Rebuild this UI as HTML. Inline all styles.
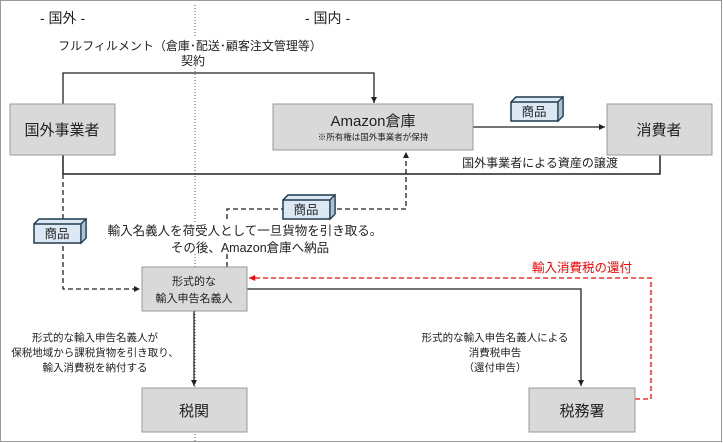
<!DOCTYPE html>
<html><head><meta charset="utf-8"><style>
html,body{margin:0;padding:0;background:#fff}
svg{display:block}
text{font-family:"Liberation Sans","Noto Sans CJK JP",sans-serif;fill:#222}
</style></head><body>
<svg width="723" height="443" viewBox="0 0 723 443" xmlns="http://www.w3.org/2000/svg">
<defs>
<marker id="a" markerWidth="8" markerHeight="8" refX="6" refY="3" orient="auto" markerUnits="userSpaceOnUse"><path d="M0,0 L6,3 L0,6 z" fill="#222"/></marker>
<marker id="r" markerWidth="8" markerHeight="8" refX="6" refY="3" orient="auto" markerUnits="userSpaceOnUse"><path d="M0,0 L6,3 L0,6 z" fill="#f00"/></marker>
<g id="box">
<path d="M0,5 L5,0 L52,0 L52,19 L47,24 L0,24 z" fill="#dce9f4" stroke="#1f3a4d" stroke-width="1.5"/>
<path d="M0,5 L47,5 L52,0 M47,5 L47,24" fill="none" stroke="#1f3a4d" stroke-width="1.5"/>
<path d="M47,5 L52,0 L52,19 L47,24 z" fill="#a9c3d8" stroke="#1f3a4d" stroke-width="1.2"/>
</g>
</defs>
<rect x="0.5" y="0.5" width="721" height="441" fill="#fff" stroke="#999"/>
<line x1="195" y1="5" x2="195" y2="443" stroke="#555" stroke-dasharray="1,2"/>
<text x="40" y="23" font-size="14">- 国外 -</text>
<text x="305" y="23" font-size="14">- 国内 -</text>
<rect x="48" y="36" width="285" height="32" fill="#fff"/>
<text x="190" y="50" font-size="12" text-anchor="middle">フルフィルメント（倉庫･配送･顧客注文管理等）</text>
<text x="193" y="65" font-size="12" text-anchor="middle">契約</text>
<polyline points="63,104 63,73 374,73 374,103" fill="none" stroke="#222" stroke-width="1.3" marker-end="url(#a)"/>
<polyline points="63,155 63,174 660,174 660,149" fill="none" stroke="#222" stroke-width="1.5" marker-end="url(#a)"/>
<text x="540" y="167" font-size="12" text-anchor="middle">国外事業者による資産の譲渡</text>
<line x1="473" y1="127" x2="605" y2="127" stroke="#222" stroke-width="1.3" marker-end="url(#a)"/>
<rect x="10" y="104" width="105" height="51" fill="#d9d9d9" stroke="#999"/>
<text x="62" y="135" font-size="15" text-anchor="middle">国外事業者</text>
<rect x="273" y="104" width="200" height="46" fill="#d9d9d9" stroke="#999"/>
<text x="373" y="126" font-size="15" text-anchor="middle">Amazon倉庫</text>
<text x="373" y="140" font-size="8.5" text-anchor="middle">※所有権は国外事業者が保持</text>
<rect x="607" y="104" width="105" height="51" fill="#d9d9d9" stroke="#999"/>
<text x="659" y="135" font-size="15" text-anchor="middle">消費者</text>
<use href="#box" x="511" y="97"/>
<text x="534" y="116" font-size="12.5" text-anchor="middle">商品</text>
<polyline points="63,174 63,289 140,289" fill="none" stroke="#222" stroke-width="1.3" stroke-dasharray="5,3" marker-end="url(#a)"/>
<use href="#box" x="34" y="219"/>
<text x="57" y="238" font-size="12.5" text-anchor="middle">商品</text>
<polyline points="227,267 227,209 406,209 406,152" fill="none" stroke="#222" stroke-width="1.3" stroke-dasharray="5,3" marker-end="url(#a)"/>
<use href="#box" x="283" y="195"/>
<text x="306" y="214" font-size="12.5" text-anchor="middle">商品</text>
<rect x="103" y="222" width="285" height="32" fill="#fff"/>
<text x="245" y="235" font-size="12.5" text-anchor="middle">輸入名義人を荷受人として一旦貨物を引き取る。</text>
<text x="250" y="252" font-size="12.5" text-anchor="middle">その後、Amazon倉庫へ納品</text>
<polyline points="635,399 651,399 651,278 249,278" fill="none" stroke="#f00" stroke-width="1.3" stroke-dasharray="5,3" marker-end="url(#r)"/>
<text x="582" y="272" font-size="12.5" text-anchor="middle" style="fill:#f00">輸入消費税の還付</text>
<polyline points="247,289 581,289 581,386" fill="none" stroke="#222" stroke-width="1.3" marker-end="url(#a)"/>
<line x1="194" y1="311" x2="194" y2="386" stroke="#222" stroke-width="1.3" marker-end="url(#a)"/>
<rect x="142" y="267" width="105" height="44" fill="#d9d9d9" stroke="#999"/>
<text x="194" y="285" font-size="11" text-anchor="middle">形式的な</text>
<text x="194" y="302" font-size="11" text-anchor="middle">輸入申告名義人</text>
<text x="95" y="341" font-size="10.5" text-anchor="middle">形式的な輸入申告名義人が</text>
<text x="95" y="356" font-size="10.5" text-anchor="middle">保税地域から課税貨物を引き取り、</text>
<text x="95" y="371" font-size="10.5" text-anchor="middle">輸入消費税を納付する</text>
<text x="495" y="341" font-size="10.5" text-anchor="middle">形式的な輸入申告名義人による</text>
<text x="495" y="356" font-size="10.5" text-anchor="middle">消費税申告</text>
<text x="495" y="371" font-size="10.5" text-anchor="middle">（還付申告）</text>
<rect x="142" y="388" width="105" height="44" fill="#d9d9d9" stroke="#999"/>
<text x="194" y="416" font-size="15" text-anchor="middle">税関</text>
<rect x="529" y="388" width="106" height="44" fill="#d9d9d9" stroke="#999"/>
<text x="582" y="416" font-size="15" text-anchor="middle">税務署</text>
</svg>
</body></html>
